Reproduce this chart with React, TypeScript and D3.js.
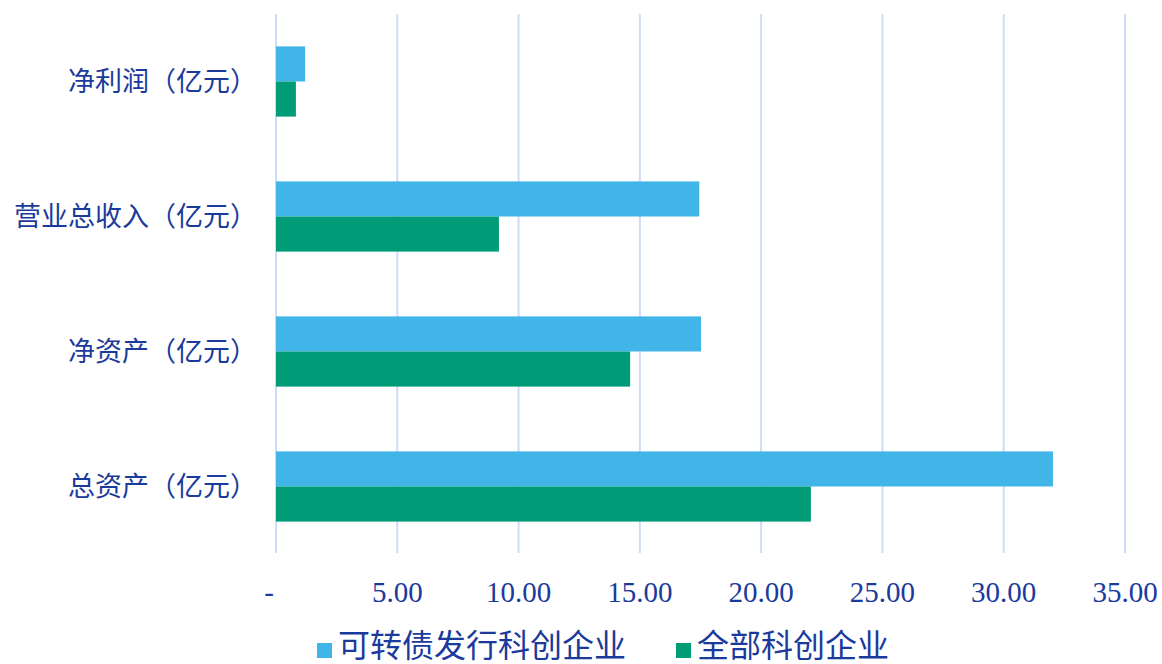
import React from 'react';
import * as d3 from 'd3';

// categories top to bottom
const categories = ['净利润（亿元）', '营业总收入（亿元）', '净资产（亿元）', '总资产（亿元）'];
const seriesNames = ['可转债发行科创企业', '全部科创企业'];
const convertibleIssuers = [1.2, 17.45, 17.52, 32.03];
const allStarCompanies = [0.82, 9.19, 14.6, 22.05];
const tickValues = [0, 5, 10, 15, 20, 25, 30, 35];

const colors = ['#42b5e8', '#009b77'];
const textColor = '#1a3a9c';

export default function App() {
  const width = 1162;
  const height = 664;

  const x = d3.scaleLinear().domain([0, 35]).range([276, 1125]);
  const y = d3
    .scaleBand<string>()
    .domain(categories)
    .range([14, 554])
    .paddingInner(0.48)
    .paddingOuter(0.24);
  const inner = d3
    .scaleBand<number>()
    .domain([0, 1])
    .range([0, y.bandwidth()]);

  const series = [convertibleIssuers, allStarCompanies];
  const fmt = (v: number) => (v === 0 ? '-' : d3.format('.2f')(v));

  return (
    <div style={{ position: 'absolute', left: 0, top: 0 }}>
      <svg width={width} height={height} style={{ display: 'block', background: '#fff' }}>
        {/* gridlines */}
        {tickValues.map((t) => (
          <line
            key={t}
            x1={x(t)}
            x2={x(t)}
            y1={14}
            y2={553}
            stroke="#d0dafa"
            strokeWidth={2}
          />
        ))}

        {/* bars */}
        {series.map((vals, si) =>
          categories.map((c, ci) => (
            <rect
              key={`${si}-${ci}`}
              x={x(0)}
              y={(y(c) ?? 0) + (inner(si) ?? 0)}
              width={x(vals[ci]) - x(0)}
              height={inner.bandwidth()}
              fill={colors[si]}
            />
          ))
        )}

        {/* category labels */}
        {categories.map((c) => (
          <text
            key={c}
            x={257}
            y={(y(c) ?? 0) + y.bandwidth() / 2}
            dy="0.35em"
            textAnchor="end"
            fontFamily="'Noto Sans CJK SC', 'Noto Sans', sans-serif"
            fontSize={27}
            fill={textColor}
          >
            {c}
          </text>
        ))}

        {/* tick labels */}
        {tickValues.map((t) => (
          <text
            key={t}
            x={t === 0 ? x(t) - 7 : x(t)}
            y={602}
            textAnchor="middle"
            fontFamily="'Liberation Serif', 'DejaVu Serif', serif"
            fontSize={29}
            fill={textColor}
          >
            {fmt(t)}
          </text>
        ))}

        {/* legend */}
        {seriesNames.map((name, i) => {
          const lx = i === 0 ? 317 : 676;
          return (
            <g key={name}>
              <rect x={lx} y={643} width={15} height={15} fill={colors[i]} />
              <text
                x={lx + 21}
                y={657}
                fontFamily="'Noto Sans CJK SC', 'Noto Sans', sans-serif"
                fontSize={32}
                fill={textColor}
              >
                {name}
              </text>
            </g>
          );
        })}
      </svg>
    </div>
  );
}
